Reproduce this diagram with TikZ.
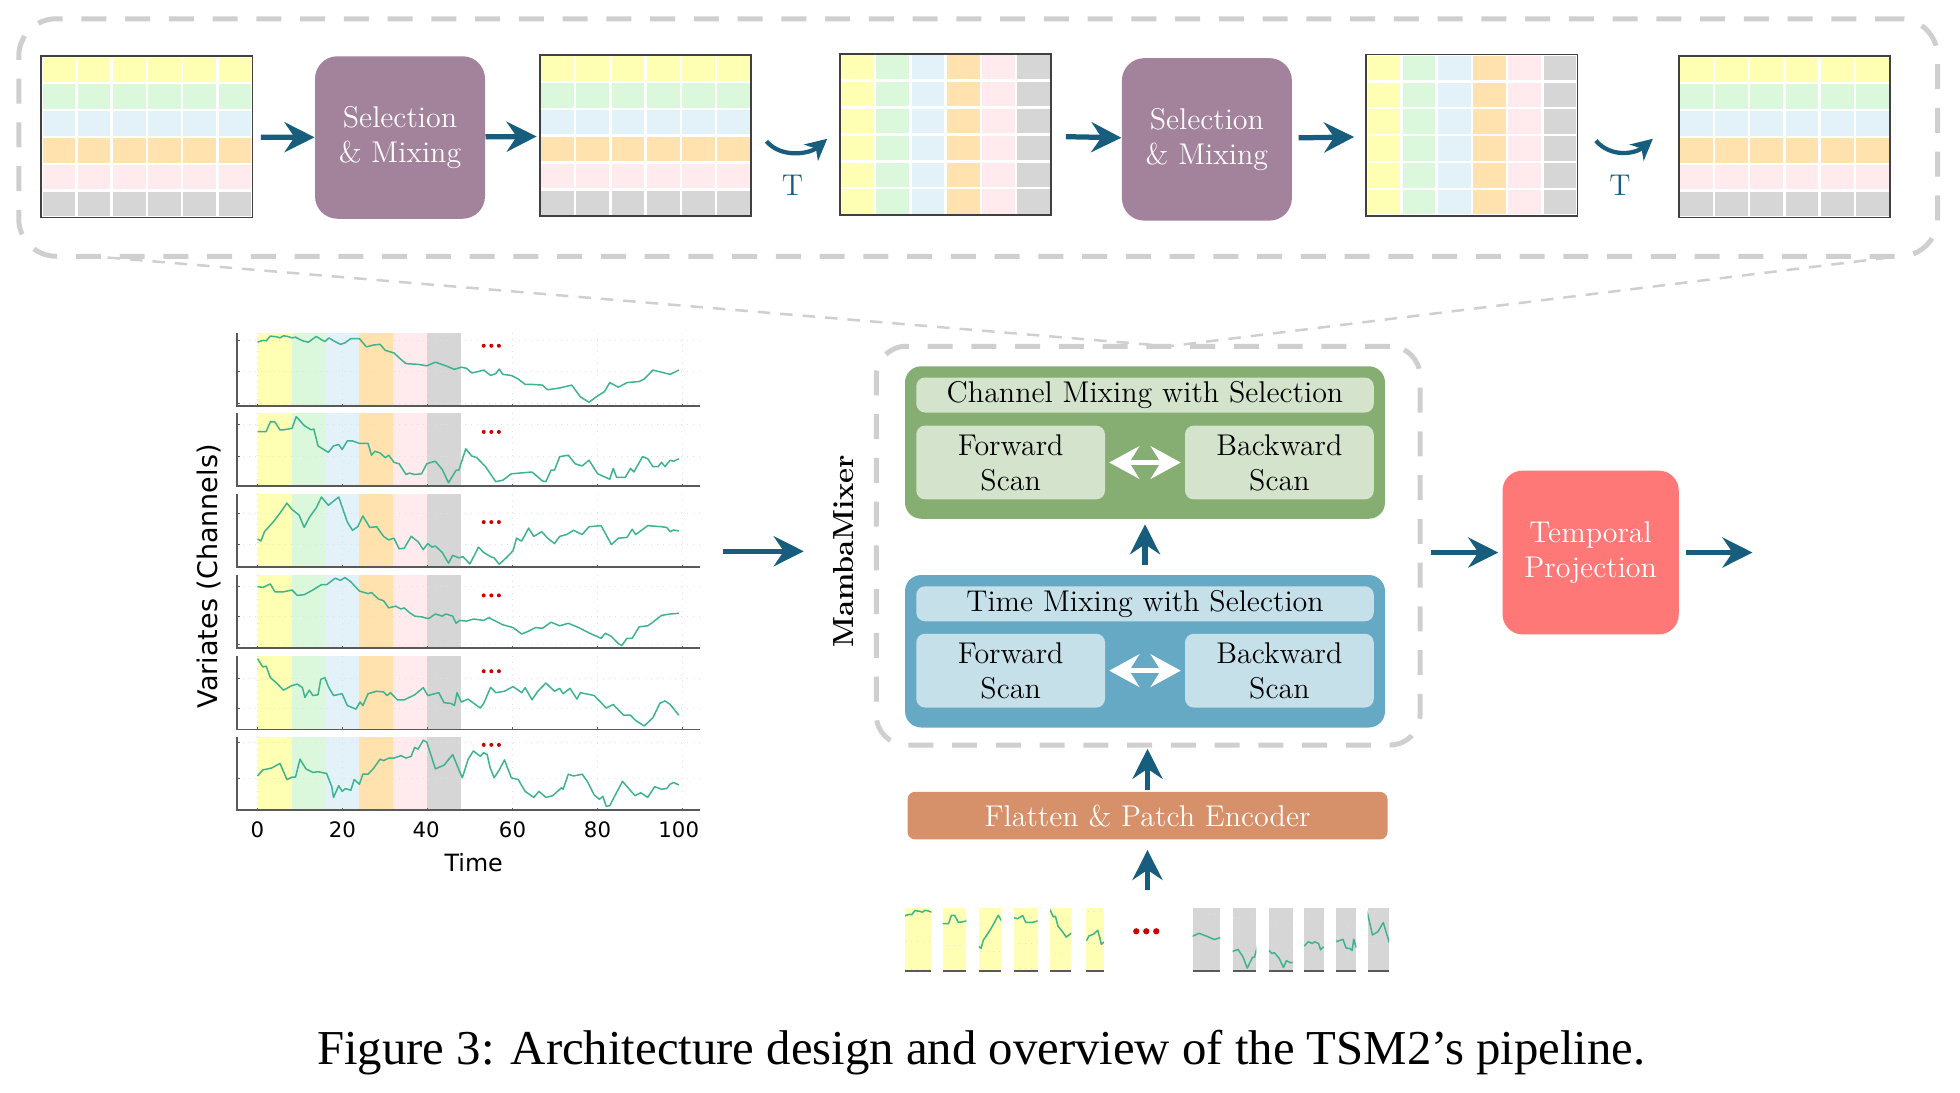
\documentclass[tikz,border=0pt]{standalone}
\usepackage{fontspec}
\newfontfamily\plotfont{DejaVu Sans}
\newfontfamily\capfont{Liberation Serif}
\usetikzlibrary{arrows.meta,calc}

% Colores
\definecolor{franja0}{HTML}{FFFFB3}
\definecolor{franja1}{HTML}{DCF8DC}
\definecolor{franja2}{HTML}{E3F2F8}
\definecolor{franja3}{HTML}{FFE2AE}
\definecolor{franja4}{HTML}{FFEBEE}
\definecolor{franja5}{HTML}{D6D6D6}
\definecolor{azulflecha}{HTML}{175E7E}
\definecolor{morado}{HTML}{A3839C}
\definecolor{verdeA}{HTML}{86AD72}
\definecolor{verdeB}{HTML}{D3E3CC}
\definecolor{azulA}{HTML}{66A9C5}
\definecolor{azulB}{HTML}{C6E0EA}
\definecolor{naranja}{HTML}{D6906A}
\definecolor{coral}{HTML}{FF7878}
\definecolor{gristrazo}{HTML}{CFCFCF}
\definecolor{curvacol}{HTML}{3DB390}
\definecolor{rojo}{HTML}{CC0000}

\tikzset{
  flecha/.style={azulflecha, line width=2.1pt,
    -{Stealth[length=12pt,width=12pt,inset=4pt]}},
  flechaT/.style={azulflecha, line width=1.7pt,
    -{Stealth[length=8.5pt,width=8.5pt,inset=2.5pt]}},
  dobleblanca/.style={white, line width=2.2pt,
    {Stealth[length=12pt,width=13pt,inset=4pt]}-{Stealth[length=12pt,width=13pt,inset=4pt]}},
  texto/.style={font=\fontsize{12}{14}\selectfont, align=center, inner sep=0pt},
  caja/.style={texto, rounded corners=9pt, fill=morado, text=white,
    minimum width=68pt, minimum height=65pt},
  bloque/.style={rounded corners=6.5pt, minimum width=192pt, minimum height=61pt, inner sep=0pt},
  barra/.style={texto, rounded corners=3.5pt, minimum width=183pt, minimum height=14pt},
  scan/.style={texto, rounded corners=3.5pt, minimum width=75.5pt, minimum height=29.5pt},
  discont/.style={draw=gristrazo, line width=2pt, dash pattern=on 10pt off 7.5pt, inner sep=0pt},
  embudo/.style={gristrazo, line width=1pt, dash pattern=on 5pt off 4pt},
  tablabox/.style={draw=black!75, line width=0.7pt, minimum width=84.5pt,
    minimum height=64.5pt, inner sep=0pt},
  plotzoom/.style={shift={(143.9,256)}, x=0.1381pt, y=-0.14305pt},
  rejilla/.style={black!12, line width=0.4pt, dotted},
  eje/.style={black!65, line width=0.7pt},
  curva/.style={curvacol, line width=0.6pt, line join=round},
  etiq/.style={font=\plotfont\fontsize{8.5}{10}\selectfont, inner sep=0pt}
}

% Tabla 6x6: nombre, x, y, modo (0 = filas, 1 = columnas)
\newcommand{\tabla}[4]{%
  \foreach \i in {0,...,5}{
    \foreach \j in {0,...,5}{
      \pgfmathtruncatemacro\colidx{#4==0 ? \j : \i}
      \fill[franja\colidx, draw=white, line width=1pt]
        (#2+\i*28.1667, #3+\j*21.5) rectangle ++(28.1667,21.5);
    }
  }
  \node[tablabox] (#1) at (#2+84.5, #3+64.5) {};
}

% Series (coordenadas del grafico)
\newcommand\serieA{(225,62) -- (240,57) -- (250,58) -- (262,45) -- (280,47) -- (290,50) -- (300,44) -- (312,46) -- (325,50) -- (335,48) -- (355,58) -- (372,62) -- (395,46) -- (410,55) -- (420,60) -- (432,50) -- (445,58) -- (465,68) -- (478,64) -- (495,52) -- (520,52) -- (540,75) -- (560,70) -- (580,68) -- (595,85) -- (620,92) -- (640,110) -- (655,122) -- (690,124) -- (715,128) -- (740,118) -- (770,128) -- (795,138) -- (815,132) -- (830,135) -- (845,148) -- (860,145) -- (880,140) -- (900,155) -- (915,150) -- (925,137) -- (935,152) -- (960,155) -- (980,165) -- (1000,180) -- (1020,180) -- (1050,182) -- (1065,195) -- (1100,190) -- (1135,182) -- (1160,215) -- (1185,230) -- (1210,212) -- (1230,200) -- (1245,175) -- (1270,188) -- (1295,175) -- (1330,172) -- (1345,165) -- (1370,140) -- (1420,152) -- (1445,140)}
\newcommand\serieB{(225,312) -- (250,312) -- (262,285) -- (275,285) -- (290,307) -- (300,307) -- (325,303) -- (337,270) -- (360,295) -- (380,307) -- (388,305) -- (400,352) -- (430,370) -- (445,352) -- (460,348) -- (470,362) -- (485,338) -- (500,338) -- (520,345) -- (545,345) -- (555,378) -- (565,367) -- (580,372) -- (595,385) -- (605,378) -- (620,398) -- (635,402) -- (655,432) -- (665,428) -- (680,432) -- (700,430) -- (715,402) -- (728,398) -- (740,395) -- (760,418) -- (778,455) -- (800,420) -- (808,420) -- (828,360) -- (845,380) -- (860,385) -- (885,410) -- (915,452) -- (935,448) -- (960,430) -- (1020,425) -- (1050,450) -- (1060,452) -- (1075,420) -- (1085,420) -- (1100,382) -- (1125,378) -- (1145,402) -- (1165,408) -- (1185,392) -- (1210,430) -- (1245,445) -- (1255,415) -- (1265,440) -- (1290,440) -- (1305,415) -- (1315,425) -- (1340,382) -- (1355,388) -- (1370,410) -- (1385,410) -- (1395,398) -- (1405,410) -- (1420,392) -- (1430,395) -- (1445,388)}
\newcommand\serieC{(225,612) -- (235,618) -- (245,592) -- (270,565) -- (290,540) -- (310,512) -- (325,530) -- (345,545) -- (360,580) -- (375,552) -- (395,525) -- (410,495) -- (430,518) -- (460,495) -- (485,565) -- (500,588) -- (515,578) -- (530,548) -- (550,580) -- (570,578) -- (590,605) -- (605,615) -- (620,610) -- (635,640) -- (650,638) -- (670,605) -- (690,620) -- (705,642) -- (718,625) -- (730,635) -- (740,632) -- (760,650) -- (778,680) -- (790,658) -- (808,665) -- (820,662) -- (840,682) -- (865,635) -- (880,650) -- (900,662) -- (910,665) -- (925,683) -- (945,665) -- (965,645) -- (975,610) -- (990,618) -- (1010,582) -- (1025,605) -- (1048,592) -- (1065,610) -- (1085,625) -- (1100,605) -- (1120,600) -- (1140,588) -- (1165,600) -- (1185,578) -- (1220,575) -- (1250,628) -- (1270,610) -- (1295,608) -- (1310,585) -- (1320,600) -- (1355,575) -- (1395,578) -- (1410,580) -- (1420,592) -- (1430,587) -- (1445,590)}
\newcommand\serieD{(225,745) -- (240,748) -- (262,738) -- (275,760) -- (300,760) -- (325,755) -- (340,770) -- (360,768) -- (385,755) -- (410,740) -- (425,740) -- (450,722) -- (465,728) -- (478,720) -- (495,732) -- (520,758) -- (545,765) -- (555,762) -- (575,780) -- (590,785) -- (605,805) -- (625,800) -- (640,808) -- (650,805) -- (665,818) -- (680,828) -- (700,830) -- (720,835) -- (740,822) -- (760,828) -- (770,822) -- (790,828) -- (800,848) -- (810,840) -- (830,842) -- (850,836) -- (880,840) -- (895,832) -- (910,840) -- (935,852) -- (965,860) -- (990,878) -- (1010,870) -- (1030,860) -- (1050,862) -- (1075,845) -- (1100,855) -- (1125,848) -- (1155,860) -- (1185,875) -- (1220,890) -- (1232,876) -- (1250,885) -- (1270,905) -- (1280,910) -- (1295,890) -- (1310,890) -- (1330,858) -- (1355,855) -- (1370,845) -- (1395,826) -- (1420,822) -- (1445,820)}
\newcommand\serieE{(225,947) -- (240,970) -- (250,968) -- (262,1000) -- (280,1015) -- (300,1035) -- (325,1022) -- (340,1018) -- (355,1028) -- (362,1055) -- (375,1035) -- (385,1050) -- (400,1048) -- (408,1005) -- (420,1000) -- (430,1025) -- (445,1050) -- (470,1045) -- (485,1078) -- (510,1088) -- (522,1068) -- (530,1078) -- (545,1045) -- (570,1038) -- (590,1040) -- (600,1050) -- (610,1042) -- (630,1062) -- (650,1062) -- (680,1048) -- (705,1028) -- (718,1050) -- (750,1042) -- (765,1070) -- (785,1072) -- (795,1078) -- (803,1042) -- (815,1068) -- (835,1060) -- (860,1078) -- (870,1085) -- (880,1072) -- (900,1027) -- (915,1042) -- (940,1038) -- (965,1025) -- (990,1042) -- (1000,1028) -- (1020,1062) -- (1035,1040) -- (1060,1015) -- (1085,1038) -- (1100,1030) -- (1110,1045) -- (1130,1030) -- (1150,1060) -- (1160,1042) -- (1200,1050) -- (1235,1085) -- (1255,1075) -- (1285,1105) -- (1305,1105) -- (1320,1120) -- (1345,1135) -- (1370,1112) -- (1390,1072) -- (1405,1065) -- (1420,1075) -- (1445,1105)}
\newcommand\serieF{(225,1275) -- (240,1258) -- (265,1253) -- (290,1240) -- (310,1285) -- (325,1278) -- (335,1278) -- (348,1228) -- (365,1255) -- (385,1265) -- (400,1263) -- (425,1268) -- (440,1305) -- (445,1335) -- (460,1302) -- (470,1318) -- (480,1310) -- (495,1315) -- (505,1285) -- (520,1298) -- (530,1270) -- (545,1270) -- (560,1255) -- (580,1228) -- (590,1232) -- (605,1225) -- (620,1225) -- (640,1218) -- (655,1225) -- (670,1220) -- (680,1195) -- (690,1200) -- (705,1175) -- (715,1180) -- (740,1255) -- (765,1245) -- (790,1215) -- (805,1250) -- (818,1280) -- (835,1228) -- (850,1205) -- (870,1220) -- (880,1210) -- (890,1215) -- (898,1250) -- (910,1280) -- (925,1258) -- (940,1230) -- (960,1280) -- (980,1285) -- (1000,1318) -- (1025,1335) -- (1040,1318) -- (1060,1335) -- (1080,1330) -- (1105,1308) -- (1110,1312) -- (1125,1270) -- (1140,1275) -- (1165,1270) -- (1180,1290) -- (1200,1328) -- (1215,1340) -- (1225,1332) -- (1235,1360) -- (1245,1358) -- (1260,1330) -- (1282,1290) -- (1300,1310) -- (1318,1330) -- (1335,1322) -- (1355,1335) -- (1375,1305) -- (1395,1312) -- (1410,1310) -- (1420,1298) -- (1430,1293) -- (1445,1300)}

\begin{document}
\begin{tikzpicture}[x=0.5pt, y=-0.5pt]
  \useasboundingbox (0,0) rectangle (1568,874);

  % Caja superior discontinua
  \node[discont, rounded corners=15pt, minimum width=767.5pt, minimum height=95pt]
    (tubo) at (782.5,110) {};

  % Tablas
  \tabla{g1}{33}{45}{0}
  \tabla{g2}{432}{44}{0}
  \tabla{g3}{672}{43}{1}
  \tabla{g4}{1093}{43.5}{1}
  \tabla{g5}{1343}{45}{0}

  % Bloques de seleccion
  \node[caja] (sel1) at (320,110) {Selection\\\& Mixing};
  \node[caja] (sel2) at (965.5,111.5) {Selection\\\& Mixing};

  % Flechas superiores
  \draw[flecha, shorten <=3pt] (g1) -- (sel1);
  \draw[flecha, shorten >=1pt] (sel1) -- (g2);
  \draw[flecha, shorten <=5.5pt] (g3) -- (sel2);
  \draw[flecha, shorten <=2.5pt, shorten >=4.5pt] (sel2) -- (g4);

  % Transpuestas
  \draw[flechaT] ($(g2.east)+(11.5,4.5)$)
    .. controls +(12,14) and +(-14,12) .. ($(g3.west)+(-9.5,3.5)$);
  \node[texto, text=azulflecha] (T1) at (634,148) {T};
  \draw[flechaT] ($(g4.east)+(14,4.5)$)
    .. controls +(12,14) and +(-14,12) .. ($(g5.west)+(-20,1.5)$);
  \node[texto, text=azulflecha] (T2) at (1296,148) {T};

  % Lineas de embudo
  \coordinate (fl) at (86,206);
  \coordinate (fr) at (1511,206);
  \coordinate (funnel) at (935,277);
  \draw[embudo] (fl) -- (funnel) -- (fr);

  % MambaMixer
  \node[discont, rounded corners=12pt, minimum width=217.5pt, minimum height=159.5pt]
    (mixer) at (918.5,436.5) {};
  \node[font=\fontsize{11.6}{13}\selectfont\bfseries, rotate=90, inner sep=0pt]
    (mlabel) at (675,441) {MambaMixer};

  \node[bloque, fill=verdeA] (verde) at (916,354) {};
  \node[barra, fill=verdeB] (tituloC) at (916,316) {Channel Mixing with Selection};
  \node[scan, fill=verdeB] (fwdC) at (808.5,370) {Forward\\Scan};
  \node[scan, fill=verdeB] (bwdC) at (1023.5,370) {Backward\\Scan};
  \draw[dobleblanca, shorten <=1.5pt, shorten >=1.5pt] (fwdC) -- (bwdC);

  \node[bloque, fill=azulA] (azul) at (916,521) {};
  \node[barra, fill=azulB] (tituloT) at (916,483) {Time Mixing with Selection};
  \node[scan, fill=azulB] (fwdT) at (808.5,536.5) {Forward\\Scan};
  \node[scan, fill=azulB] (bwdT) at (1023.5,536.5) {Backward\\Scan};
  \draw[dobleblanca, shorten <=1.5pt, shorten >=1.5pt] (fwdT) -- (bwdT);

  \draw[flecha, shorten <=4pt, shorten >=2pt] (azul.north) -- (verde.south);

  % Codificador
  \node[texto, rounded corners=3pt, fill=naranja, text=white, minimum width=192pt,
    minimum height=19pt] (flat) at (918,652.5) {Flatten \& Patch Encoder};
  \draw[flecha, shorten <=0.5pt, shorten >=0.5pt] (flat.north) -- (flat.north |- mixer.south);
  \coordinate (patchtop) at (918,712);
  \draw[flecha, shorten >=4pt] (patchtop) -- (flat.south);

  % Proyeccion temporal
  \node[caja, fill=coral, rounded corners=8pt, minimum width=70.5pt, minimum height=65.5pt]
    (temp) at (1272.5,442) {Temporal\\Projection};
  \draw[flecha, shorten <=3.5pt, shorten >=1.5pt] (mixer.east |- temp.west) -- (temp.west);
  \coordinate (salida) at (1402,442);
  \draw[flecha, shorten <=2.5pt] (temp.east) -- (salida);

  % Grafico de series y parches
  \foreach \zt/\zb/\s/\zd/\gl/\ya/\yw/\ga/\gw in {
      35/240/\serieA/72/{57,145,233}/724/21/954/22,
      260/465/\serieB/313/{292,382}/754/19/986/19,
      487/690/\serieC/565/{540,627}/783/18/1015/19,
      712/917/\serieD/770/{745,828,908}/811/19/1043/16,
      940/1145/\serieE/982/{1003,1087}/840/17/1069/16,
      1167/1370/\serieF/1188/{1180,1282}/869/14/1094/17}{
    \begin{scope}[plotzoom]
      \foreach \b in {0,...,5}
        \fill[franja\b] (225+98.4*\b,\zt) rectangle (323.4+98.4*\b,\zb);
      \foreach \g in {225,471,717,963,1209,1455}{
        \draw[rejilla] (\g,\zt) -- (\g,\zb);
        \draw[eje, line width=0.4pt] (\g,\zb) -- (\g,\zb-6);
      }
      \foreach \h in \gl{
        \draw[rejilla] (165,\h) -- (1505,\h);
        \draw[eje, line width=0.4pt] (165,\h) -- (175,\h);
      }
      \draw[eje] (165,\zt) -- (165,\zb) -- (1505,\zb);
      \draw[curva] \s;
      \foreach \d in {880,902,924}
        \fill[rojo] (\d,\zd) circle (0.8pt);
    \end{scope}
    % parches amarillo y gris
    \foreach \px/\pw/\xo/\col in {\ya/\yw/225/franja0, \ga/\gw/717/franja5}{
      \pgfmathsetmacro\ux{\pw/98.4*0.5}
      \pgfmathsetmacro\dx{\px-\xo*\pw/98.4}
      \pgfmathsetmacro\dy{726-\zt*0.2488}
      \fill[\col] (\px,726) rectangle ++(\pw,51);
      \begin{scope}
        \clip (\px,726) rectangle ++(\pw,51);
        \begin{scope}[shift={(\dx,\dy)}, x=\ux pt, y=-0.1244pt]
          \foreach \h in \gl
            \draw[rejilla] (0,\h) -- (2000,\h);
          \draw[curva] \s;
        \end{scope}
      \end{scope}
      \draw[eje] (\px,777) -- ++(\pw,0);
    }
  }
  \foreach \d in {909,917,925}
    \fill[rojo] (\d,745) circle (1.25pt);

  % Etiquetas de ejes
  \foreach \t/\xt in {0/206,20/274,40/341,60/410,80/478,100/543}
    \node[etiq] (eje\t) at (\xt,664) {\t};
  \node[etiq, font=\plotfont\fontsize{9.5}{11}\selectfont] (tiempo) at (379,690) {Time};
  \node[etiq, font=\plotfont\fontsize{10.8}{12}\selectfont, rotate=90]
    (variates) at (167.5,461) {Variates (Channels)};

  \coordinate (plotout) at (578,441);
  \coordinate (mixin) at (643,441);
  \draw[flecha] (plotout) -- (mixin);

  % Pie de figura
  \node[font=\capfont\fontsize{19.5}{23}\selectfont, inner sep=0pt] (pie) at (785,842)
    {Figure 3: Architecture design and overview of the TSM2’s pipeline.};

\end{tikzpicture}
\end{document}
